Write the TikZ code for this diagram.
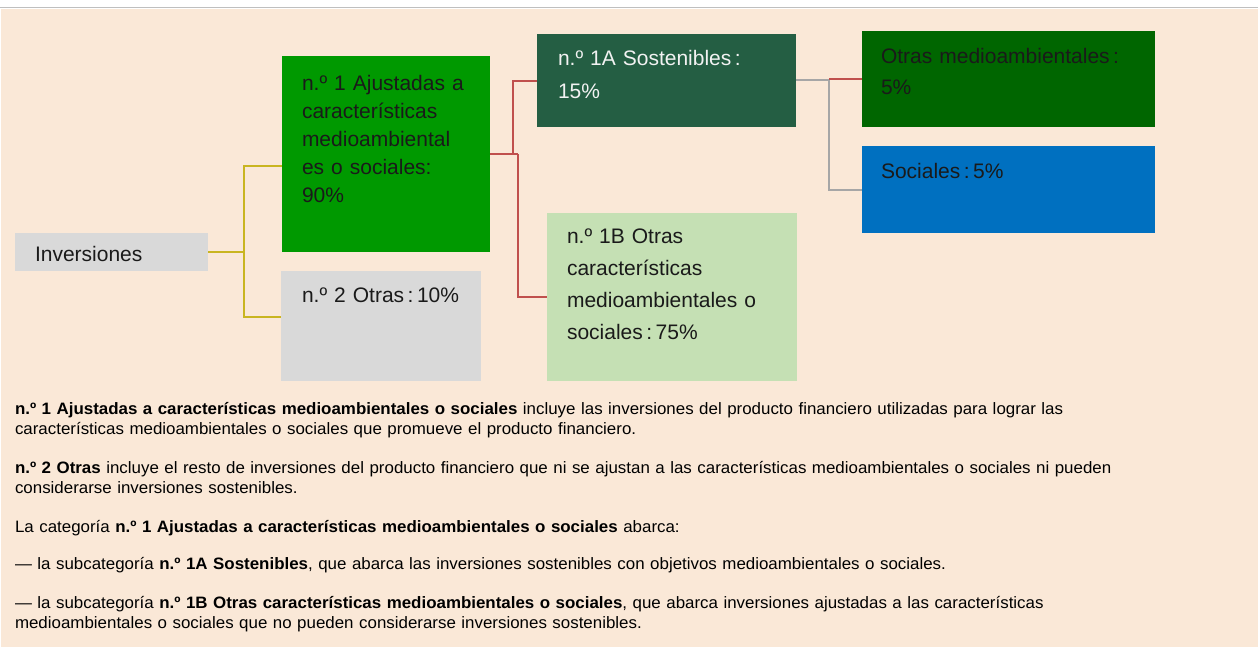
\documentclass[tikz,border=0pt]{standalone}
\usepackage{fontspec}
\setmainfont{Liberation Sans}
\newfontfamily\boxfont{Liberation Sans}
\newfontfamily\bodyfont[FakeStretch=1.025]{Liberation Sans}
\definecolor{cBeige}{HTML}{FAE8D7}
\definecolor{cTop}{HTML}{BFBFBF}
\definecolor{cGray}{HTML}{D9D9D9}
\definecolor{cGreen}{HTML}{009900}
\definecolor{cDark}{HTML}{245E43}
\definecolor{cLight}{HTML}{C5E0B4}
\definecolor{cOtras}{HTML}{006600}
\definecolor{cBlue}{HTML}{0070C0}
\definecolor{cYel}{HTML}{C9B520}
\definecolor{cRed}{HTML}{C0504D}
\definecolor{cGline}{HTML}{A6A6A6}
\definecolor{cInk}{HTML}{1A1A1A}
\begin{document}
\begin{tikzpicture}[x=1pt,y=-1pt,
  bx/.style={draw=none,inner sep=0pt,outer sep=0pt,anchor=north west},
  txt/.style={inner sep=0pt,outer sep=0pt,anchor=base west,text width=290pt,align=left,
    font=\boxfont\fontsize{21}{#1}\selectfont,text=cInk},
  txt/.default=32,
  body/.style={inner sep=0pt,outer sep=0pt,anchor=base west,text width=1240pt,align=left,
    font=\bodyfont\fontsize{16.5}{20}\selectfont,text=black},
  conn/.style={line width=2pt}
]
\useasboundingbox (0,0) rectangle (1258,653);
\fill[cBeige] (1,9) rectangle (1258,647);
\draw[cTop,line width=1.6pt] (0,7.5) -- (1258,7.5);

% boxes
\node[bx,fill=cGray,minimum width=193pt,minimum height=38pt] (inv) at (15,233) {};
\node[bx,fill=cGreen,minimum width=208pt,minimum height=196pt] (n1) at (282,56) {};
\node[bx,fill=cGray,minimum width=200pt,minimum height=110pt] (n2) at (281,271) {};
\node[bx,fill=cDark,minimum width=259pt,minimum height=93pt] (n1a) at (537,34) {};
\node[bx,fill=cLight,minimum width=250pt,minimum height=168pt] (n1b) at (547,213) {};
\node[bx,fill=cOtras,minimum width=293pt,minimum height=96pt] (otr) at (862,31) {};
\node[bx,fill=cBlue,minimum width=293pt,minimum height=87pt] (soc) at (862,146) {};

% texts in boxes
\node[txt] (tinv) at (35,261) {Inversiones};
\node[txt=28] (tn1) at (302,90) {n.º 1 Ajustadas a\\características\\medioambiental\\es o sociales:\\90\%};
\node[txt] (tn2) at (302,302) {n.º 2 Otras\,:\,10\%};
\node[txt=33,text=white!95!black] (tn1a) at (558,65) {n.º 1A Sostenibles\,:\\15\%};
\node[txt] (tn1b) at (567,243) {n.º 1B Otras\\características\\medioambientales o\\sociales\,:\,75\%};
\node[txt] (totr) at (881,63) {Otras medioambientales\,:\\5\%};
\node[txt] (tsoc) at (881,178) {Sociales\,:\,5\%};

% connectors
\coordinate (yj) at (244,252);
\draw[conn,cYel] (inv.east) -- (yj);
\draw[conn,cYel] (yj) |- (n1.west |- 0,166);
\draw[conn,cYel] (yj) |- (n2.west |- 0,317);

\coordinate (rj) at (518,154);
\coordinate (rk) at (513,154);
\draw[conn,cRed] (n1.east) -- (rj);
\draw[conn,cRed] (rk) |- (n1a.west);
\draw[conn,cRed] (rj) |- (n1b.west);

\coordinate (gj) at (829,80);
\draw[conn,cGline] (n1a.east |- gj) -- (gj) |- (soc.west);
\draw[conn,cRed] (gj |- otr.west) -- (otr.west);

% explanatory text
\node[body] (p1) at (15,414) {\textbf{n.º 1 Ajustadas a características medioambientales o sociales} incluye las inversiones del producto financiero utilizadas para lograr las\\características medioambientales o sociales que promueve el producto financiero.};
\node[body] (p2) at (15,473) {\textbf{n.º 2 Otras} incluye el resto de inversiones del producto financiero que ni se ajustan a las características medioambientales o sociales ni pueden\\considerarse inversiones sostenibles.};
\node[body] (p3) at (15,532) {La categoría \textbf{n.º 1 Ajustadas a características medioambientales o sociales} abarca:};
\node[body] (p4) at (15,569) {— la subcategoría \textbf{n.º 1A Sostenibles}, que abarca las inversiones sostenibles con objetivos medioambientales o sociales.};
\node[body] (p5) at (15,608) {— la subcategoría \textbf{n.º 1B Otras características medioambientales o sociales}, que abarca inversiones ajustadas a las características\\medioambientales o sociales que no pueden considerarse inversiones sostenibles.};
\end{tikzpicture}
\end{document}
